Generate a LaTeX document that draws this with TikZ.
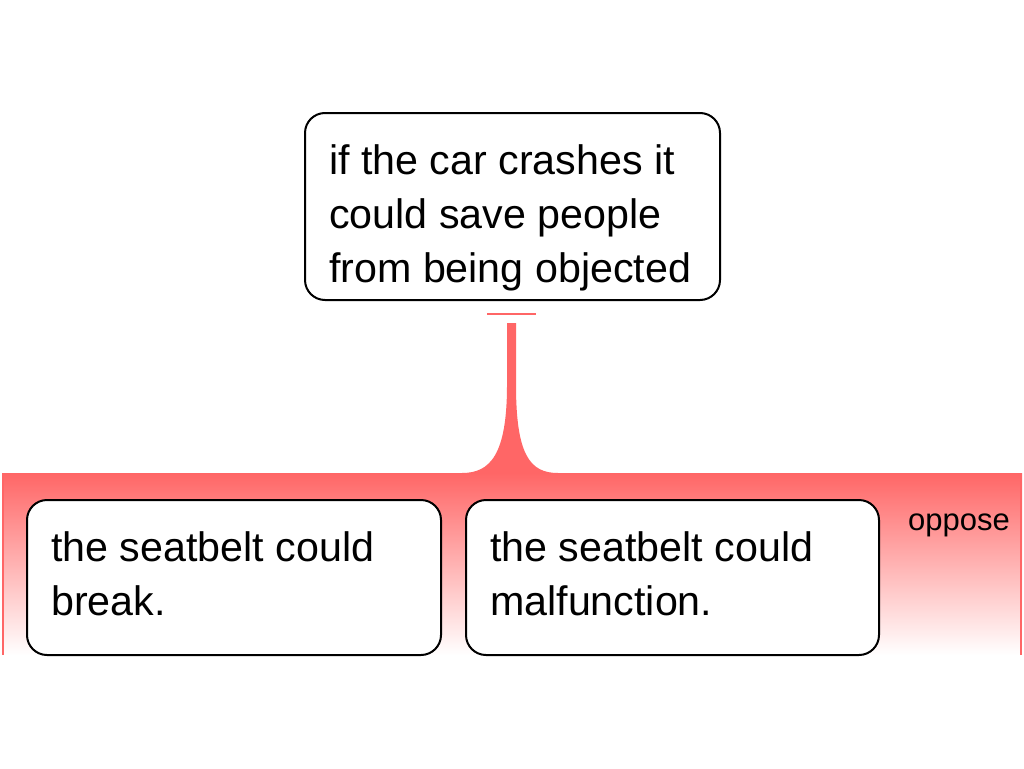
\documentclass[tikz,border=0pt]{standalone}
\usepackage{fontspec}
\setmainfont{Liberation Sans}
\definecolor{opp}{RGB}{255,102,102}
\begin{document}
\begin{tikzpicture}[x=1pt,y=-1pt,
  box/.style={draw=black, line width=2pt, rounded corners=20pt, fill=white, inner sep=0pt},
  txt/.style={anchor=north west, inner sep=0pt, align=left, font=\fontsize{41.2}{54}\selectfont},
  lbl/.style={anchor=base west, inner sep=0pt, font=\fontsize{31}{36}\selectfont}]
\useasboundingbox (0,0) rectangle (1024,768);
\fill[white] (0,0) rectangle (1024,768);
% band
\shade[top color=opp, bottom color=white] (2,473) rectangle (1022,655);
\draw[opp, line width=2pt] (3,473) -- (3,655);
\draw[opp, line width=2pt] (1021,473) -- (1021,655);
% connector
\fill[opp] (507,323) -- (516,323) -- (516,385)
  .. controls (516,455) and (530,473) .. (558,473)
  -- (462,473) .. controls (490,473) and (507,455) .. (507,385) -- cycle;
\coordinate (barL) at (487,314);
\coordinate (barR) at (536,314);
\draw[opp, line width=2pt] (barL) -- (barR);
% boxes
\node[box, minimum width=415pt, minimum height=187pt] (top) at (512.5,206.5) {};
\node[txt] (toptxt) at (329,144.5) {if the car crashes it\\could save people\\from being objected};
\node[box, minimum width=414pt, minimum height=155pt] (b1) at (234,577.5) {};
\node[txt] (b1txt) at (51,531.5) {the seatbelt could\\break.};
\node[box, minimum width=413pt, minimum height=155pt] (b2) at (672.5,577.5) {};
\node[txt] (b2txt) at (490,531.5) {the seatbelt could\\malfunction.};
\node[lbl] (opp) at (908,530) {oppose};
\end{tikzpicture}
\end{document}
